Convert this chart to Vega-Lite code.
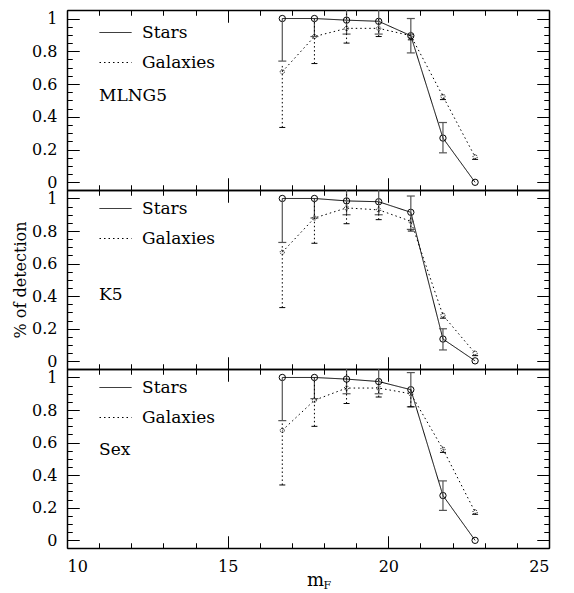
{
  "$schema": "https://vega.github.io/schema/vega-lite/v6.json",
  "padding": {"left": 12, "top": 9, "right": 5, "bottom": 0},
  "background": "white",
  "datasets": {
    "mlng5": [
      {"type": "Stars", "m": 16.7, "f": 1.0, "lo": 0.74, "hi": 1.0},
      {"type": "Stars", "m": 17.7, "f": 1.0, "lo": 0.89, "hi": 1.0},
      {"type": "Stars", "m": 18.7, "f": 0.99, "lo": 0.905, "hi": 1.07},
      {"type": "Stars", "m": 19.7, "f": 0.983, "lo": 0.905, "hi": 1.06},
      {"type": "Stars", "m": 20.7, "f": 0.895, "lo": 0.79, "hi": 1.0},
      {"type": "Stars", "m": 21.7, "f": 0.27, "lo": 0.18, "hi": 0.365},
      {"type": "Stars", "m": 22.7, "f": 0.0, "lo": 0.0, "hi": 0.0},
      {"type": "Galaxies", "m": 16.7, "f": 0.675, "lo": 0.335, "hi": 0.72},
      {"type": "Galaxies", "m": 17.7, "f": 0.89, "lo": 0.725, "hi": 1.0},
      {"type": "Galaxies", "m": 18.7, "f": 0.94, "lo": 0.85, "hi": 1.04},
      {"type": "Galaxies", "m": 19.7, "f": 0.94, "lo": 0.89, "hi": 1.0},
      {"type": "Galaxies", "m": 20.7, "f": 0.895, "lo": 0.87, "hi": 0.92},
      {"type": "Galaxies", "m": 21.7, "f": 0.525, "lo": 0.505, "hi": 0.545},
      {"type": "Galaxies", "m": 22.7, "f": 0.155, "lo": 0.14, "hi": 0.17}
    ],
    "k5": [
      {"type": "Stars", "m": 16.7, "f": 1.0, "lo": 0.73, "hi": 1.0},
      {"type": "Stars", "m": 17.7, "f": 1.0, "lo": 0.88, "hi": 1.0},
      {"type": "Stars", "m": 18.7, "f": 0.985, "lo": 0.9, "hi": 1.07},
      {"type": "Stars", "m": 19.7, "f": 0.98, "lo": 0.9, "hi": 1.06},
      {"type": "Stars", "m": 20.7, "f": 0.915, "lo": 0.81, "hi": 1.015},
      {"type": "Stars", "m": 21.7, "f": 0.137, "lo": 0.07, "hi": 0.2},
      {"type": "Stars", "m": 22.7, "f": 0.003, "lo": 0.003, "hi": 0.003},
      {"type": "Galaxies", "m": 16.7, "f": 0.67, "lo": 0.33, "hi": 0.72},
      {"type": "Galaxies", "m": 17.7, "f": 0.88, "lo": 0.725, "hi": 1.0},
      {"type": "Galaxies", "m": 18.7, "f": 0.942, "lo": 0.845, "hi": 1.04},
      {"type": "Galaxies", "m": 19.7, "f": 0.93, "lo": 0.87, "hi": 0.99},
      {"type": "Galaxies", "m": 20.7, "f": 0.86, "lo": 0.8, "hi": 0.9},
      {"type": "Galaxies", "m": 21.7, "f": 0.283, "lo": 0.265, "hi": 0.3},
      {"type": "Galaxies", "m": 22.7, "f": 0.05, "lo": 0.035, "hi": 0.065}
    ],
    "sex": [
      {"type": "Stars", "m": 16.7, "f": 1.0, "lo": 0.735, "hi": 1.0},
      {"type": "Stars", "m": 17.7, "f": 1.0, "lo": 0.87, "hi": 1.0},
      {"type": "Stars", "m": 18.7, "f": 0.99, "lo": 0.9, "hi": 1.07},
      {"type": "Stars", "m": 19.7, "f": 0.975, "lo": 0.9, "hi": 1.06},
      {"type": "Stars", "m": 20.7, "f": 0.925, "lo": 0.82, "hi": 1.03},
      {"type": "Stars", "m": 21.7, "f": 0.275, "lo": 0.184, "hi": 0.365},
      {"type": "Stars", "m": 22.7, "f": 0.0, "lo": 0.0, "hi": 0.0},
      {"type": "Galaxies", "m": 16.7, "f": 0.675, "lo": 0.34, "hi": 0.72},
      {"type": "Galaxies", "m": 17.7, "f": 0.86, "lo": 0.7, "hi": 1.0},
      {"type": "Galaxies", "m": 18.7, "f": 0.935, "lo": 0.84, "hi": 1.04},
      {"type": "Galaxies", "m": 19.7, "f": 0.935, "lo": 0.88, "hi": 0.99},
      {"type": "Galaxies", "m": 20.7, "f": 0.9, "lo": 0.82, "hi": 0.93},
      {"type": "Galaxies", "m": 21.7, "f": 0.56, "lo": 0.54, "hi": 0.58},
      {"type": "Galaxies", "m": 22.7, "f": 0.174, "lo": 0.16, "hi": 0.19}
    ]
  },
  "spacing": 0,
  "bounds": "flush",
  "resolve": {"scale": {"strokeDash": "independent"}, "legend": {"strokeDash": "independent"}},
  "vconcat": [
    {
      "width": 482, "height": 180,
      "data": {"name": "mlng5"},
      "resolve": {"axis": {"x": "independent", "y": "independent"}},
      "layer": [
        {
          "mark": {"type": "line", "color": "black", "strokeWidth": 1},
          "encoding": {
            "x": {"field": "m", "type": "quantitative", "scale": {"domain": [10, 25], "nice": false, "zero": false},
              "axis": {"orient": "bottom", "values": [10, 15, 20, 25], "ticks": true, "tickSize": -12, "labels": false, "title": null,
                "grid": true, "gridDash": [12, 156, 12, 1000]}},
            "y": {"field": "f", "type": "quantitative", "scale": {"domain": [-0.047, 1.052], "nice": false, "zero": false},
              "axis": {"orient": "left", "values": [0, 0.2, 0.4, 0.6, 0.8, 1], "format": "~g", "ticks": true, "tickSize": -12, "labelPadding": 22, "title": null,
                "grid": true, "gridDash": [12, 458, 12, 1000]}},
            "strokeDash": {"field": "type", "type": "nominal", "scale": {"domain": ["Stars", "Galaxies"], "range": [[1, 0], [1.5, 3]]},
              "legend": {"title": "MLNG5", "orient": "none", "legendX": 32, "legendY": 6, "titlePadding": 17}}
          }
        },
        {
          "transform": [{"filter": "datum.type == 'Stars'"}],
          "mark": {"type": "point", "shape": "circle", "filled": false, "color": "black", "size": 40, "strokeWidth": 1, "opacity": 1},
          "encoding": {
            "x": {"field": "m", "type": "quantitative", "axis": {"orient": "top", "values": [10, 15, 20, 25], "ticks": true, "tickSize": -12, "labels": false, "title": null}},
            "y": {"field": "f", "type": "quantitative", "axis": {"orient": "right", "values": [0, 0.2, 0.4, 0.6, 0.8, 1], "ticks": true, "tickSize": -12, "labels": false, "title": null}}
          }
        },
        {
          "transform": [{"filter": "datum.type == 'Galaxies'"}],
          "mark": {"type": "point", "shape": "circle", "filled": false, "color": "black", "size": 18, "strokeWidth": 1, "strokeDash": [1, 1], "opacity": 1},
          "encoding": {
            "x": {"field": "m", "type": "quantitative", "axis": {"orient": "bottom", "values": [11,12,13,14,16,17,18,19,21,22,23,24], "ticks": true, "tickSize": -5, "labels": false, "domain": false, "title": null,
              "grid": true, "gridDash": [5, 170, 5, 1000]}},
            "y": {"field": "f", "type": "quantitative", "axis": {"orient": "left", "values": [0.05,0.1,0.15,0.25,0.3,0.35,0.45,0.5,0.55,0.65,0.7,0.75,0.85,0.9,0.95], "ticks": true, "tickSize": -5, "labels": false, "domain": false, "title": null,
              "grid": true, "gridDash": [5, 472, 5, 1000]}}
          }
        },
        {
          "transform": [{"filter": "datum.type == 'Stars' && datum.hi > datum.lo"}],
          "mark": {"type": "rule", "color": "#555", "strokeWidth": 1.2, "clip": true},
          "encoding": {
            "x": {"field": "m", "type": "quantitative", "axis": {"orient": "top", "values": [11,12,13,14,16,17,18,19,21,22,23,24], "ticks": true, "tickSize": -5, "labels": false, "domain": false, "title": null}},
            "y": {"field": "lo", "type": "quantitative", "axis": {"orient": "right", "values": [0.05,0.1,0.15,0.25,0.3,0.35,0.45,0.5,0.55,0.65,0.7,0.75,0.85,0.9,0.95], "ticks": true, "tickSize": -5, "labels": false, "domain": false, "title": null}},
            "y2": {"field": "hi"}
          }
        },
        {
          "transform": [{"filter": "datum.type == 'Stars' && datum.lo < datum.f"}],
          "mark": {"type": "tick", "orient": "horizontal", "size": 8, "thickness": 1.2, "color": "#555", "opacity": 1, "clip": true},
          "encoding": {
            "x": {"field": "m", "type": "quantitative", "axis": null},
            "y": {"field": "lo", "type": "quantitative", "axis": null}
          }
        },
        {
          "transform": [{"filter": "datum.type == 'Stars' && datum.hi > datum.f"}],
          "mark": {"type": "tick", "orient": "horizontal", "size": 8, "thickness": 1.2, "color": "#555", "opacity": 1, "clip": true},
          "encoding": {
            "x": {"field": "m", "type": "quantitative", "axis": null},
            "y": {"field": "hi", "type": "quantitative", "axis": null}
          }
        },
        {
          "transform": [{"filter": "datum.type == 'Galaxies'"}],
          "mark": {"type": "rule", "color": "black", "strokeWidth": 1, "strokeDash": [1.5, 2.5], "clip": true},
          "encoding": {
            "x": {"field": "m", "type": "quantitative", "axis": null},
            "y": {"field": "lo", "type": "quantitative", "axis": null},
            "y2": {"field": "hi"}
          }
        },
        {
          "transform": [{"filter": "datum.type == 'Galaxies'"}],
          "mark": {"type": "tick", "orient": "horizontal", "size": 6, "thickness": 1, "color": "black", "opacity": 1, "strokeDash": [1.5, 1.5], "clip": true},
          "encoding": {
            "x": {"field": "m", "type": "quantitative", "axis": null},
            "y": {"field": "lo", "type": "quantitative", "axis": null}
          }
        }
      ]
    },
    {
      "width": 482, "height": 179,
      "data": {"name": "k5"},
      "resolve": {"axis": {"x": "independent", "y": "independent"}},
      "layer": [
        {
          "mark": {"type": "line", "color": "black", "strokeWidth": 1},
          "encoding": {
            "x": {"field": "m", "type": "quantitative", "scale": {"domain": [10, 25], "nice": false, "zero": false},
              "axis": {"orient": "bottom", "values": [10, 15, 20, 25], "ticks": true, "tickSize": -12, "labels": false, "title": null,
                "grid": true, "gridDash": [12, 155, 12, 1000]}},
            "y": {"field": "f", "type": "quantitative", "scale": {"domain": [-0.047, 1.052], "nice": false, "zero": false},
              "axis": {"orient": "left", "values": [0, 0.2, 0.4, 0.6, 0.8, 1], "format": "~g", "ticks": true, "tickSize": -12, "labelPadding": 22, "title": "% of detection", "titlePadding": 3,
                "grid": true, "gridDash": [12, 458, 12, 1000]}},
            "strokeDash": {"field": "type", "type": "nominal", "scale": {"domain": ["Stars", "Galaxies"], "range": [[1, 0], [1.5, 3]]},
              "legend": {"title": "K5", "orient": "none", "legendX": 32, "legendY": 2, "titlePadding": 40}}
          }
        },
        {
          "transform": [{"filter": "datum.type == 'Stars'"}],
          "mark": {"type": "point", "shape": "circle", "filled": false, "color": "black", "size": 40, "strokeWidth": 1, "opacity": 1},
          "encoding": {
            "x": {"field": "m", "type": "quantitative", "axis": {"orient": "top", "values": [10, 15, 20, 25], "ticks": true, "tickSize": -12, "labels": false, "title": null}},
            "y": {"field": "f", "type": "quantitative", "axis": {"orient": "right", "values": [0, 0.2, 0.4, 0.6, 0.8, 1], "ticks": true, "tickSize": -12, "labels": false, "title": null}}
          }
        },
        {
          "transform": [{"filter": "datum.type == 'Galaxies'"}],
          "mark": {"type": "point", "shape": "circle", "filled": false, "color": "black", "size": 18, "strokeWidth": 1, "strokeDash": [1, 1], "opacity": 1},
          "encoding": {
            "x": {"field": "m", "type": "quantitative", "axis": {"orient": "bottom", "values": [11,12,13,14,16,17,18,19,21,22,23,24], "ticks": true, "tickSize": -5, "labels": false, "domain": false, "title": null,
              "grid": true, "gridDash": [5, 169, 5, 1000]}},
            "y": {"field": "f", "type": "quantitative", "axis": {"orient": "left", "values": [0.05,0.1,0.15,0.25,0.3,0.35,0.45,0.5,0.55,0.65,0.7,0.75,0.85,0.9,0.95], "ticks": true, "tickSize": -5, "labels": false, "domain": false, "title": null,
              "grid": true, "gridDash": [5, 472, 5, 1000]}}
          }
        },
        {
          "transform": [{"filter": "datum.type == 'Stars' && datum.hi > datum.lo"}],
          "mark": {"type": "rule", "color": "#555", "strokeWidth": 1.2, "clip": true},
          "encoding": {
            "x": {"field": "m", "type": "quantitative", "axis": {"orient": "top", "values": [11,12,13,14,16,17,18,19,21,22,23,24], "ticks": true, "tickSize": -5, "labels": false, "domain": false, "title": null}},
            "y": {"field": "lo", "type": "quantitative", "axis": {"orient": "right", "values": [0.05,0.1,0.15,0.25,0.3,0.35,0.45,0.5,0.55,0.65,0.7,0.75,0.85,0.9,0.95], "ticks": true, "tickSize": -5, "labels": false, "domain": false, "title": null}},
            "y2": {"field": "hi"}
          }
        },
        {
          "transform": [{"filter": "datum.type == 'Stars' && datum.lo < datum.f"}],
          "mark": {"type": "tick", "orient": "horizontal", "size": 8, "thickness": 1.2, "color": "#555", "opacity": 1, "clip": true},
          "encoding": {
            "x": {"field": "m", "type": "quantitative", "axis": null},
            "y": {"field": "lo", "type": "quantitative", "axis": null}
          }
        },
        {
          "transform": [{"filter": "datum.type == 'Stars' && datum.hi > datum.f"}],
          "mark": {"type": "tick", "orient": "horizontal", "size": 8, "thickness": 1.2, "color": "#555", "opacity": 1, "clip": true},
          "encoding": {
            "x": {"field": "m", "type": "quantitative", "axis": null},
            "y": {"field": "hi", "type": "quantitative", "axis": null}
          }
        },
        {
          "transform": [{"filter": "datum.type == 'Galaxies'"}],
          "mark": {"type": "rule", "color": "black", "strokeWidth": 1, "strokeDash": [1.5, 2.5], "clip": true},
          "encoding": {
            "x": {"field": "m", "type": "quantitative", "axis": null},
            "y": {"field": "lo", "type": "quantitative", "axis": null},
            "y2": {"field": "hi"}
          }
        },
        {
          "transform": [{"filter": "datum.type == 'Galaxies'"}],
          "mark": {"type": "tick", "orient": "horizontal", "size": 6, "thickness": 1, "color": "black", "opacity": 1, "strokeDash": [1.5, 1.5], "clip": true},
          "encoding": {
            "x": {"field": "m", "type": "quantitative", "axis": null},
            "y": {"field": "lo", "type": "quantitative", "axis": null}
          }
        }
      ]
    },
    {
      "width": 482, "height": 179,
      "data": {"name": "sex"},
      "resolve": {"axis": {"x": "independent", "y": "independent"}},
      "layer": [
        {
          "mark": {"type": "line", "color": "black", "strokeWidth": 1},
          "encoding": {
            "x": {"field": "m", "type": "quantitative", "scale": {"domain": [10, 25], "nice": false, "zero": false},
              "axis": {"orient": "bottom", "values": [10, 15, 20, 25], "format": "d", "ticks": true, "tickSize": -12, "labelPadding": 22,
                "grid": true, "gridDash": [12, 155, 12, 1000],
                "title": "m", "titleFontSize": 18, "titleX": 248, "titleY": 37, "titleAlign": "center", "titleBaseline": "alphabetic"}},
            "y": {"field": "f", "type": "quantitative", "scale": {"domain": [-0.047, 1.052], "nice": false, "zero": false},
              "axis": {"orient": "left", "values": [0, 0.2, 0.4, 0.6, 0.8, 1], "format": "~g", "ticks": true, "tickSize": -12, "labelPadding": 22, "title": null,
                "grid": true, "gridDash": [12, 458, 12, 1000]}},
            "strokeDash": {"field": "type", "type": "nominal", "scale": {"domain": ["Stars", "Galaxies"], "range": [[1, 0], [1.5, 3]]},
              "legend": {"title": "Sex", "orient": "none", "legendX": 32, "legendY": 2, "titlePadding": 16}}
          }
        },
        {
          "transform": [{"filter": "datum.type == 'Stars'"}],
          "mark": {"type": "point", "shape": "circle", "filled": false, "color": "black", "size": 40, "strokeWidth": 1, "opacity": 1},
          "encoding": {
            "x": {"field": "m", "type": "quantitative", "axis": {"orient": "top", "values": [10, 15, 20, 25], "ticks": true, "tickSize": -12, "labels": false, "title": null}},
            "y": {"field": "f", "type": "quantitative", "axis": {"orient": "right", "values": [0, 0.2, 0.4, 0.6, 0.8, 1], "ticks": true, "tickSize": -12, "labels": false, "title": null}}
          }
        },
        {
          "transform": [{"filter": "datum.type == 'Galaxies'"}],
          "mark": {"type": "point", "shape": "circle", "filled": false, "color": "black", "size": 18, "strokeWidth": 1, "strokeDash": [1, 1], "opacity": 1},
          "encoding": {
            "x": {"field": "m", "type": "quantitative", "axis": {"orient": "bottom", "values": [11,12,13,14,16,17,18,19,21,22,23,24], "ticks": true, "tickSize": -5, "labels": false, "domain": false,
              "grid": true, "gridDash": [5, 169, 5, 1000],
              "title": "F", "titleFontSize": 11, "titleX": 256, "titleY": 40, "titleAlign": "left", "titleBaseline": "alphabetic"}},
            "y": {"field": "f", "type": "quantitative", "axis": {"orient": "left", "values": [0.05,0.1,0.15,0.25,0.3,0.35,0.45,0.5,0.55,0.65,0.7,0.75,0.85,0.9,0.95], "ticks": true, "tickSize": -5, "labels": false, "domain": false, "title": null,
              "grid": true, "gridDash": [5, 472, 5, 1000]}}
          }
        },
        {
          "transform": [{"filter": "datum.type == 'Stars' && datum.hi > datum.lo"}],
          "mark": {"type": "rule", "color": "#555", "strokeWidth": 1.2, "clip": true},
          "encoding": {
            "x": {"field": "m", "type": "quantitative", "axis": {"orient": "top", "values": [11,12,13,14,16,17,18,19,21,22,23,24], "ticks": true, "tickSize": -5, "labels": false, "domain": false, "title": null}},
            "y": {"field": "lo", "type": "quantitative", "axis": {"orient": "right", "values": [0.05,0.1,0.15,0.25,0.3,0.35,0.45,0.5,0.55,0.65,0.7,0.75,0.85,0.9,0.95], "ticks": true, "tickSize": -5, "labels": false, "domain": false, "title": null}},
            "y2": {"field": "hi"}
          }
        },
        {
          "transform": [{"filter": "datum.type == 'Stars' && datum.lo < datum.f"}],
          "mark": {"type": "tick", "orient": "horizontal", "size": 8, "thickness": 1.2, "color": "#555", "opacity": 1, "clip": true},
          "encoding": {
            "x": {"field": "m", "type": "quantitative", "axis": null},
            "y": {"field": "lo", "type": "quantitative", "axis": null}
          }
        },
        {
          "transform": [{"filter": "datum.type == 'Stars' && datum.hi > datum.f"}],
          "mark": {"type": "tick", "orient": "horizontal", "size": 8, "thickness": 1.2, "color": "#555", "opacity": 1, "clip": true},
          "encoding": {
            "x": {"field": "m", "type": "quantitative", "axis": null},
            "y": {"field": "hi", "type": "quantitative", "axis": null}
          }
        },
        {
          "transform": [{"filter": "datum.type == 'Galaxies'"}],
          "mark": {"type": "rule", "color": "black", "strokeWidth": 1, "strokeDash": [1.5, 2.5], "clip": true},
          "encoding": {
            "x": {"field": "m", "type": "quantitative", "axis": null},
            "y": {"field": "lo", "type": "quantitative", "axis": null},
            "y2": {"field": "hi"}
          }
        },
        {
          "transform": [{"filter": "datum.type == 'Galaxies'"}],
          "mark": {"type": "tick", "orient": "horizontal", "size": 6, "thickness": 1, "color": "black", "opacity": 1, "strokeDash": [1.5, 1.5], "clip": true},
          "encoding": {
            "x": {"field": "m", "type": "quantitative", "axis": null},
            "y": {"field": "lo", "type": "quantitative", "axis": null}
          }
        }
      ]
    }
  ],
  "config": {
    "view": {"stroke": null, "fill": null},
    "axis": {
      "domainColor": "black", "domainWidth": 1.5,
      "tickColor": "black", "tickWidth": 1, "tickOpacity": 1,
      "gridColor": "black", "gridWidth": 1, "gridOpacity": 1,
      "labelFont": "DejaVu Serif, Liberation Serif, serif", "labelFontSize": 16, "labelColor": "black",
      "titleFont": "DejaVu Serif, Liberation Serif, serif", "titleFontWeight": "normal", "titleColor": "black", "titleFontSize": 16
    },
    "legend": {
      "symbolType": "stroke", "symbolSize": 1024, "symbolStrokeWidth": 1, "symbolStrokeColor": "black",
      "labelFont": "DejaVu Serif, Liberation Serif, serif", "labelFontSize": 17, "labelColor": "black", "labelOffset": 10,
      "rowPadding": 5, "padding": 0,
      "titleOrient": "bottom", "titleAnchor": "start", "titleFont": "DejaVu Serif, Liberation Serif, serif", "titleFontSize": 17,
      "titleFontWeight": "normal", "titleColor": "black", "titlePadding": 8
    }
  }
}
